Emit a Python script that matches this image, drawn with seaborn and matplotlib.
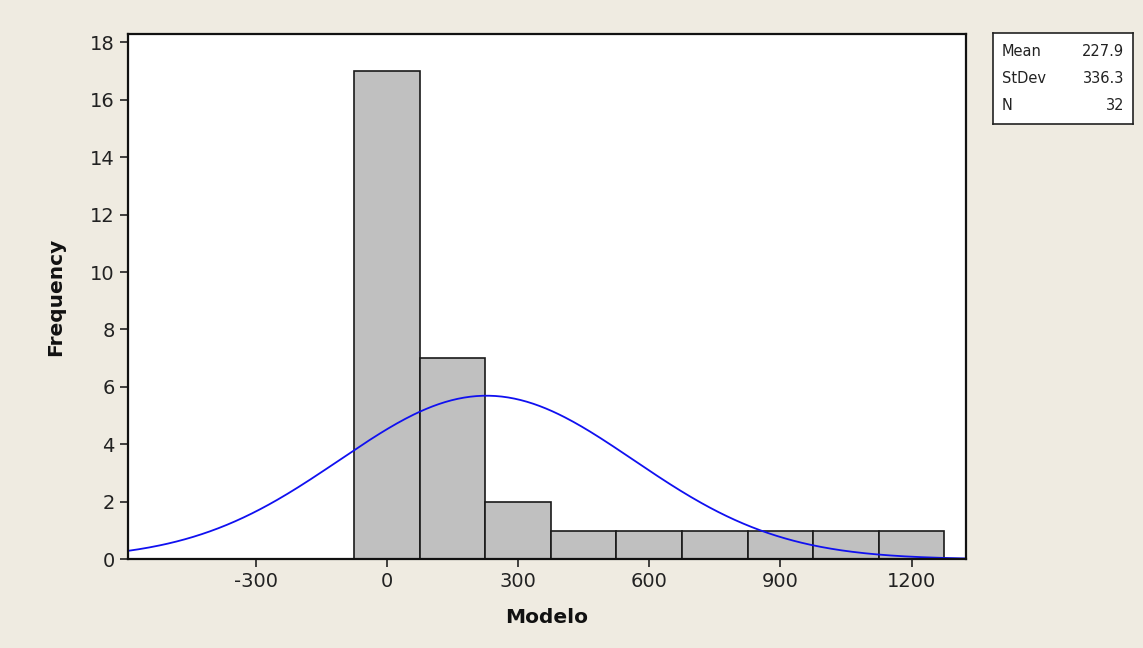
import matplotlib
matplotlib.use("Agg")
import matplotlib.pyplot as plt
import numpy as np
import pandas as pd
import seaborn as sns

# Histogram of "Modelo" (Minitab style), bins of width 150 centred on multiples of 150
bin_centers = [0, 150, 300, 450, 600, 750, 900, 1050, 1200]
bin_counts = [17, 7, 2, 1, 1, 1, 1, 1, 1]
bin_width = 150

mean_val = 227.9
sd_val = 336.3
n_obs = 32

x_ticks = [-300, 0, 300, 600, 900, 1200]
y_ticks = [0, 2, 4, 6, 8, 10, 12, 14, 16, 18]

BG = "#EFEBE1"

sns.set_style("white")
plt.rcParams["font.family"] = ["DejaVu Sans"]
plt.rcParams["axes.unicode_minus"] = False

df = pd.DataFrame({"Modelo": np.repeat(bin_centers, bin_counts)})
edges = np.arange(bin_centers[0] - bin_width / 2, bin_centers[-1] + bin_width, bin_width)

fig = plt.figure(figsize=(11.43, 6.48), dpi=100, facecolor=BG)
ax = fig.add_axes([0.112, 0.137, 0.733, 0.811])
ax.set_facecolor("white")

sns.histplot(data=df, x="Modelo", bins=edges, color="#C0C0C0", alpha=1,
             edgecolor="#1a1a1a", linewidth=1.2, ax=ax)

# fitted normal curve scaled to counts
xs = np.linspace(-592, 1324, 400)
pdf = n_obs * bin_width / (sd_val * np.sqrt(2 * np.pi)) * np.exp(-0.5 * ((xs - mean_val) / sd_val) ** 2)
sns.lineplot(x=xs, y=pdf, color="#1010F0", linewidth=1.3, ax=ax)

ax.set_xlim(-592, 1324)
ax.set_ylim(0, 18.3)
ax.set_xticks(x_ticks)
ax.set_yticks(y_ticks)
ax.tick_params(axis="both", direction="out", length=6, width=1.2, color="#222222",
               labelsize=14, labelcolor="#222222", left=True, bottom=True)
for sp in ax.spines.values():
    sp.set_color("#111111")
    sp.set_linewidth(1.6)
    sp.set_visible(True)

ax.set_xlabel("Modelo", fontsize=14.5, fontweight="bold", color="#111111", labelpad=12)
ax.set_ylabel("Frequency", fontsize=14.5, fontweight="bold", color="#111111", labelpad=18)

# stats box
box = fig.add_axes([0.869, 0.809, 0.122, 0.140])
box.set_xticks([])
box.set_yticks([])
box.set_facecolor("white")
for sp in box.spines.values():
    sp.set_color("#222222")
    sp.set_linewidth(1.2)
rows = [("Mean", f"{mean_val}"), ("StDev", f"{sd_val}"), ("N", f"{n_obs}")]
for i, (k, v) in enumerate(rows):
    yy = 0.80 - i * 0.30
    box.text(0.06, yy, k, fontsize=10.5, va="center", ha="left", color="#222222", transform=box.transAxes)
    box.text(0.94, yy, v, fontsize=10.5, va="center", ha="right", color="#222222", transform=box.transAxes)

fig.savefig("out.png", dpi=100, facecolor=BG)
